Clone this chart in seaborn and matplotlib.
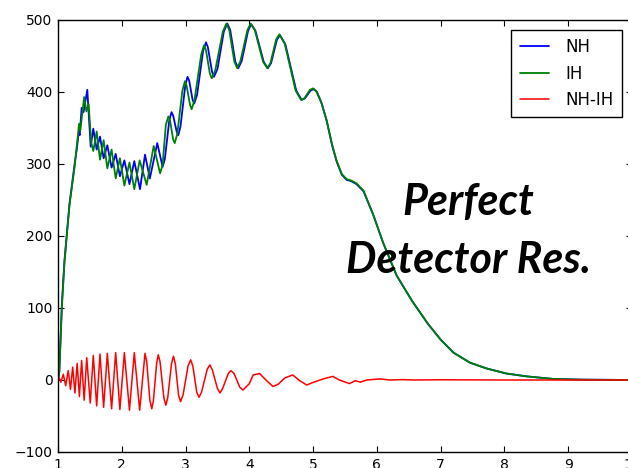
import matplotlib
matplotlib.use("Agg")
import matplotlib.pyplot as plt
import seaborn as sns

# values (extrema plus a few shoulder points)
nh_x = [1.00, 1.02, 1.06, 1.10, 1.14, 1.18, 1.22, 1.26, 1.29, 1.30, 1.325, 1.34, 1.37, 1.40,
        1.459, 1.512, 1.553, 1.606, 1.658, 1.715, 1.773, 1.84, 1.904, 1.97, 2.04, 2.12,
        2.196, 2.285, 2.364, 2.44, 2.556, 2.64, 2.675, 2.745, 2.78, 2.806, 2.86, 2.886,
        2.92, 2.995, 3.03, 3.056, 3.11, 3.136, 3.18, 3.275, 3.32, 3.35, 3.415, 3.445,
        3.50, 3.60, 3.654, 3.70, 3.78, 3.826, 3.88, 3.98, 4.03, 4.095, 4.225, 4.29,
        4.34, 4.43, 4.48, 4.565, 4.735, 4.82, 4.87, 4.96, 5.01, 5.06, 5.13, 5.21,
        5.30, 5.37, 5.45, 5.525, 5.60, 5.68, 5.79, 5.94, 6.10, 6.31, 6.55, 6.80,
        7.00, 7.20, 7.46, 7.72, 8.03, 8.35, 8.76, 9.20, 10.0]
nh_y = [0, 12, 105, 165, 205, 245, 272, 300, 318, 325, 344, 340, 378, 372,
        403, 324, 349, 320, 338, 308, 326, 295, 314, 283, 305, 272,
        304, 265, 313, 280, 329, 296, 307, 361, 372, 367, 345, 340,
        352, 409, 421, 416, 389, 384, 396, 457, 469, 462, 428, 421,
        432, 484, 495, 486, 442, 433, 443, 485, 494, 485, 442, 433,
        440, 472, 479, 466, 402, 389, 391, 402, 404, 400, 385, 361,
        325, 303, 285, 278, 276, 272, 262, 230, 190, 145, 110, 78,
        56, 38, 24, 16, 9, 5, 1.5, 0.5, 0]

ih_x = [1.00, 1.02, 1.06, 1.10, 1.14, 1.18, 1.22, 1.26, 1.29, 1.31, 1.33, 1.35, 1.41, 1.445,
        1.48, 1.52, 1.553, 1.606, 1.658, 1.715, 1.773, 1.84, 1.904, 1.97, 2.04, 2.12,
        2.196, 2.28, 2.39, 2.50, 2.60, 2.64, 2.69, 2.73, 2.755, 2.805, 2.83, 2.87,
        2.95, 2.99, 3.015, 3.07, 3.095, 3.14, 3.245, 3.29, 3.32, 3.38, 3.41, 3.465,
        3.585, 3.64, 3.685, 3.765, 3.81, 3.86, 3.97, 4.02, 4.085, 4.215, 4.28, 4.33,
        4.42, 4.47, 4.555, 4.725, 4.81, 4.86, 4.95, 5.00, 5.05, 5.13, 5.21, 5.30,
        5.37, 5.45, 5.525, 5.60, 5.68, 5.79, 5.94, 6.10, 6.31, 6.55, 6.80, 7.00,
        7.20, 7.46, 7.72, 8.03, 8.35, 8.76, 9.20, 10.0]
ih_y = [0, 11, 100, 162, 203, 243, 270, 296, 322, 338, 356, 347, 393, 373,
        383, 330, 318, 345, 306, 333, 294, 320, 280, 308, 270, 302,
        265, 305, 271, 325, 287, 299, 354, 366, 361, 334, 329, 342,
        402, 415, 409, 382, 376, 389, 452, 465, 458, 426, 419, 430,
        484, 495, 486, 442, 433, 443, 486, 495, 486, 442, 433, 440,
        473, 480, 467, 402, 389, 391, 403, 405, 401, 385, 361, 326,
        304, 286, 279, 277, 273, 263, 230, 190, 145, 110, 78, 56,
        38, 24, 16, 9, 5, 1.5, 0.5, 0]

diff_x = [1.00, 1.02, 1.045, 1.083, 1.12, 1.16, 1.195, 1.23, 1.265, 1.30, 1.335, 1.37,
          1.41, 1.45, 1.505, 1.553, 1.606, 1.658, 1.715, 1.773, 1.84, 1.904, 1.97,
          2.04, 2.12, 2.196, 2.28, 2.364, 2.39, 2.44, 2.47, 2.495, 2.547, 2.572,
          2.60, 2.66, 2.69, 2.72, 2.78, 2.81, 2.84, 2.89, 2.92, 2.96, 3.04, 3.08,
          3.115, 3.175, 3.21, 3.25, 3.34, 3.38, 3.42, 3.50, 3.54, 3.58, 3.67, 3.71,
          3.76, 3.85, 3.90, 4.00, 4.06, 4.16, 4.26, 4.37, 4.45, 4.56, 4.68, 4.79,
          4.90, 4.98, 5.11, 5.18, 5.31, 5.41, 5.57, 5.66, 5.74, 5.84, 6.05, 6.20,
          6.40, 6.60, 7.00, 8.00, 10.0]
diff_y = [0, 3, -3, 8, -8, 13, -13, 18, -18, 23, -23, 27,
          -28, 31, -32, 34, -36, 36, -38, 37, -40, 38, -41,
          38, -42, 38, -42, 37, 26, -28, -40, -29, 24, 35,
          25, -25, -35, -25, 23, 33, 22, -21, -30, -21, 20, 28,
          19, -17, -24, -17, 15, 21, 14, -12, -18, -12, 9, 13,
          9, -10, -14, -5, 7, 9, 0, -9, -6, 3, 7, -1,
          -7, -4, 0, 2, 5, 0, -5, -1, -3, 0, 1.5, 0,
          0.5, 0, 0.3, 0, 0]

x_ticks = list(range(1, 11))
y_ticks = list(range(-100, 501, 100))

sns.set_style("ticks", {"xtick.direction": "in", "ytick.direction": "in",
                        "axes.edgecolor": "black"})

fig = plt.figure(figsize=(6.28, 4.68), dpi=100)
ax = fig.add_axes([0.0924, 0.0342, 0.914, 0.9231])

sns.lineplot(x=nh_x, y=nh_y, ax=ax, color="#0000ff", lw=1.3, label="NH",
             estimator=None, sort=False)
sns.lineplot(x=ih_x, y=ih_y, ax=ax, color="#008000", lw=1.3, label="IH",
             estimator=None, sort=False)
sns.lineplot(x=diff_x, y=diff_y, ax=ax, color="#ff0000", lw=1.1, label="NH-IH",
             estimator=None, sort=False)

ax.set_xlim(1, 10)
ax.set_ylim(-100, 500)
ax.set_xticks(x_ticks)
ax.set_yticks(y_ticks)
ax.tick_params(top=True, right=True, length=4, width=0.8, labelsize=10,
               pad=4, colors="black")
for sp in ax.spines.values():
    sp.set_linewidth(1.0)
    sp.set_color("black")

leg = ax.legend(loc="upper right", fancybox=False, framealpha=1, fontsize=12,
                handlelength=1.75, handletextpad=1.0, borderaxespad=0.6,
                borderpad=0.5, labelspacing=0.5)
leg.get_frame().set_edgecolor("black")
leg.get_frame().set_linewidth(1.0)
for t in leg.get_texts():
    t.set_color("black")

big = dict(ha="center", va="baseline", fontsize=31, fontweight="bold",
           fontstyle="italic", color="black", family=["Lato", "DejaVu Sans"])
fig.text(0.746, 1 - 215 / 468, "Perfect", **big)
fig.text(0.746, 1 - 273 / 468, "Detector Res.", **big)

fig.savefig("out.png", dpi=100)
